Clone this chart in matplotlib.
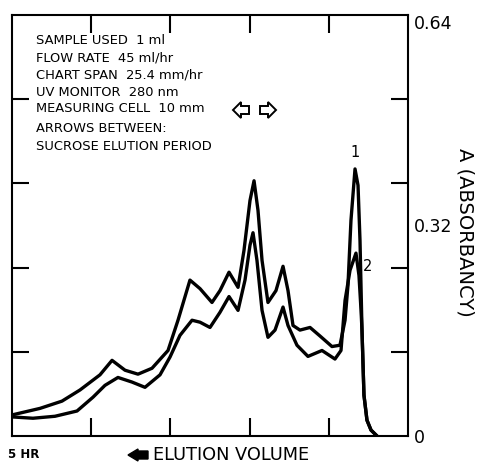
import matplotlib
matplotlib.use("Agg")
import matplotlib.pyplot as plt
from matplotlib.patches import Polygon

# elution time in hours (right edge = 0, left edge = 5 HR) and absorbancy
t1 = [5.000, 4.646, 4.369, 4.141, 3.889, 3.737, 3.573, 3.409, 3.232, 3.030,
      2.904, 2.753, 2.626, 2.475, 2.374, 2.260, 2.146, 2.071, 1.995, 1.944,
      1.894, 1.843, 1.768, 1.667, 1.578, 1.515, 1.452, 1.364, 1.237, 1.111,
      0.960, 0.859, 0.795, 0.758, 0.720, 0.669, 0.631, 0.606, 0.581, 0.556,
      0.518, 0.467, 0.391]
a1 = [0.032, 0.042, 0.053, 0.070, 0.093, 0.115, 0.100, 0.094, 0.103, 0.130,
      0.176, 0.237, 0.224, 0.203, 0.221, 0.249, 0.226, 0.282, 0.358, 0.388,
      0.343, 0.267, 0.203, 0.221, 0.258, 0.221, 0.168, 0.161, 0.165, 0.152,
      0.136, 0.138, 0.176, 0.229, 0.328, 0.406, 0.381, 0.297, 0.161, 0.062,
      0.024, 0.009, 0.000]

t2 = [5.000, 4.735, 4.457, 4.179, 3.977, 3.826, 3.662, 3.485, 3.321, 3.131,
      3.005, 2.879, 2.727, 2.626, 2.500, 2.374, 2.260, 2.146, 2.058, 1.995,
      1.957, 1.907, 1.843, 1.768, 1.679, 1.578, 1.515, 1.402, 1.263, 1.086,
      0.922, 0.846, 0.795, 0.732, 0.657, 0.619, 0.593, 0.581, 0.556, 0.518,
      0.467, 0.391]
a2 = [0.029, 0.027, 0.030, 0.038, 0.059, 0.077, 0.089, 0.082, 0.074, 0.093,
      0.120, 0.153, 0.176, 0.173, 0.165, 0.188, 0.212, 0.191, 0.237, 0.290,
      0.309, 0.267, 0.191, 0.150, 0.161, 0.196, 0.168, 0.138, 0.121, 0.130,
      0.117, 0.130, 0.206, 0.252, 0.278, 0.244, 0.191, 0.161, 0.062, 0.024,
      0.009, 0.000]

x_ticks = [1, 2, 3, 4]
y_minor = [0.128, 0.256, 0.384, 0.512]
y_labels = [0, 0.32, 0.64]

notes = ["SAMPLE USED  1 ml", "FLOW RATE  45 ml/hr", "CHART SPAN  25.4 mm/hr",
         "UV MONITOR  280 nm", "MEASURING CELL  10 mm"]
notes2 = ["ARROWS BETWEEN:", "SUCROSE ELUTION PERIOD"]

W, H = 479, 463
fig = plt.figure(figsize=(W / 100, H / 100), dpi=100)
ax = fig.add_axes([12 / W, 1 - 436 / H, 396 / W, 421 / H])


def px(x, y):
    # figure pixel (top-left origin) -> figure fraction
    return x / W, 1 - y / H


ax.plot(t1, a1, color="black", lw=2.4, solid_joinstyle="round", solid_capstyle="round")
ax.plot(t2, a2, color="black", lw=2.4, solid_joinstyle="round", solid_capstyle="round")

ax.set_xlim(5, 0)
ax.set_ylim(0, 0.64)
for s in ax.spines.values():
    s.set_linewidth(1.5)

ax.set_xticks(x_ticks)
ax.set_xticklabels([])
ax.tick_params(axis="x", which="major", direction="in", top=True, bottom=True,
               length=13, width=1.5)

ax.yaxis.tick_right()
ax.set_yticks(y_labels)
ax.set_yticklabels(["0", "0.32", "0.64"])
ax.set_yticks(y_minor, minor=True)
ax.tick_params(axis="y", which="major", length=0, pad=4, labelsize=12.5)
ax.tick_params(axis="y", which="minor", direction="in", left=True, right=True,
               length=12, width=1.5)
# nudge the top label down a little, as in the chart
ax.get_yticklabels()[2].set_va("top")

ax.text(0.669, 0.431, "1", ha="center", va="center", fontsize=10.5)
ax.text(0.505, 0.258, "2", ha="center", va="center", fontsize=10.5)

for i, s in enumerate(notes):
    fig.text(*px(36, 41 + 17 * i), s, fontsize=9.4, va="center", ha="left")
for i, s in enumerate(notes2):
    fig.text(*px(36, 129 + 17 * i), s, fontsize=9.4, va="center", ha="left")

# hollow arrows marking sucrose elution period
la = [(233, 110), (241, 102), (241, 106), (249, 106), (249, 114), (241, 114), (241, 118)]
ra = [(276, 110), (268, 102), (268, 106), (260, 106), (260, 114), (268, 114), (268, 118)]
for pts in (la, ra):
    fig.patches.append(Polygon([px(x, y) for x, y in pts], closed=True,
                               transform=fig.transFigure, facecolor="white",
                               edgecolor="black", lw=1.4))

# solid arrow for elution direction
ba = [(128, 455), (138, 449), (138, 451), (148, 451), (148, 459), (138, 459), (138, 461)]
fig.patches.append(Polygon([px(x, y) for x, y in ba], closed=True,
                           transform=fig.transFigure, facecolor="black",
                           edgecolor="black", lw=1))

fig.text(*px(153, 460), "ELUTION VOLUME", fontsize=12.8, va="baseline", ha="left")
fig.text(*px(8, 458), "5 HR", fontsize=8.5, fontweight="bold", va="baseline", ha="left")
fig.text(*px(465, 232), "A (ABSORBANCY)", fontsize=14, rotation=-90,
         va="center", ha="center")

fig.savefig("out.png", dpi=100)
